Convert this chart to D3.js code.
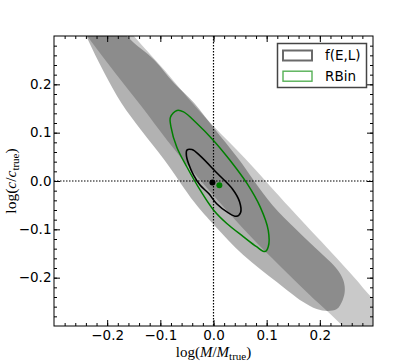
<!DOCTYPE html>
<html>
<head>
<meta charset="utf-8">
<script src="https://cdn.jsdelivr.net/npm/d3@7"></script>
<style>
  html, body { margin: 0; padding: 0; background: #fff; }
  svg { display: block; }
</style>
</head>
<body>
<div id="container"></div>
<script>
// tick labels
const xTicks = [-0.2, -0.1, 0.0, 0.1, 0.2];
const yTicks = [-0.2, -0.1, 0.0, 0.1, 0.2];

// band running to the lower right corner (x, y in log units)
const bandRegion = [
    [-0.207, 0.374], [-0.149, 0.299], [-0.092, 0.229], [-0.049, 0.173], [-0.001, 0.115],
    [0.059, 0.047], [0.144, -0.056], [0.221, -0.147], [0.266, -0.201], [0.299, -0.242],
    [0.369, -0.308], [0.275, -0.339], [0.243, -0.300], [0.181, -0.236], [0.125, -0.176],
    [0.069, -0.114], [0.013, -0.046], [-0.036, 0.016], [-0.087, 0.084], [-0.136, 0.155],
    [-0.186, 0.225], [-0.237, 0.299], [-0.287, 0.374]
];

// curved region ending near (0.24, -0.25)
const bananaRegion = [
    [-0.269, 0.374], [-0.239, 0.299], [-0.205, 0.223], [-0.173, 0.161], [-0.136, 0.105],
    [-0.092, 0.043], [-0.036, -0.044], [0.001, -0.091], [0.056, -0.153], [0.119, -0.209],
    [0.168, -0.250], [0.194, -0.265], [0.215, -0.269], [0.232, -0.265], [0.243, -0.246],
    [0.247, -0.226], [0.244, -0.205], [0.232, -0.182], [0.200, -0.147], [0.111, -0.050],
    [0.046, 0.047], [0.001, 0.109], [-0.036, 0.161], [-0.074, 0.202], [-0.111, 0.250],
    [-0.162, 0.299], [-0.212, 0.374]
];

// f(E,L) contour
const felContour = [
    [-0.050, 0.064], [-0.0405, 0.065], [-0.025, 0.052], [0.006, 0.017], [0.036, -0.017],
    [0.049, -0.043], [0.051, -0.065], [0.043, -0.073], [0.028, -0.066], [0.006, -0.047],
    [-0.009, -0.026], [-0.025, -0.009], [-0.0375, 0.012], [-0.047, 0.036], [-0.051, 0.053]
];

// RBin contour
const rbinContour = [
    [-0.0686, 0.146], [-0.0563, 0.143], [-0.0311, 0.119], [0.000, 0.084], [0.031, 0.043],
    [0.063, -0.005], [0.088, -0.054], [0.103, -0.102], [0.103, -0.136], [0.097, -0.146],
    [0.081, -0.136], [0.056, -0.115], [0.025, -0.088], [0.000, -0.060], [-0.025, -0.019],
    [-0.050, 0.029], [-0.069, 0.070], [-0.080, 0.112], [-0.081, 0.132]
];

// best-fit points
const bestFits = [
    { name: 'f(E,L)', x: -0.002, y: -0.003 },
    { name: 'RBin', x: 0.011, y: -0.009 }
];

const legendNames = ['f(E,L)', 'RBin'];
const colors = { 'f(E,L)': '#000000', 'RBin': '#008000' };
const swatchColors = { 'f(E,L)': '#6a6a6a', 'RBin': '#55b055' };

const W = 415, H = 363;
const margin = { top: 36, right: 42, bottom: 37, left: 54 };
const width = W - margin.left - margin.right;
const height = H - margin.top - margin.bottom;

const svg = d3.select('#container')
    .append('svg')
    .attr('width', W)
    .attr('height', H)
    .append('g')
    .attr('transform', `translate(${margin.left}, ${margin.top})`);

const x = d3.scaleLinear().domain([-0.3, 0.3]).range([0, width]);
const y = d3.scaleLinear().domain([-0.3, 0.3]).range([height, 0]);

svg.append('clipPath').attr('id', 'plotclip')
    .append('rect').attr('width', width).attr('height', height);

const plot = svg.append('g').attr('clip-path', 'url(#plotclip)');

const area = d3.line()
    .x(d => x(d[0]))
    .y(d => y(d[1]))
    .curve(d3.curveCatmullRomClosed.alpha(0.5));

plot.append('path')
    .datum(bandRegion)
    .attr('d', area)
    .attr('fill', '#000')
    .attr('fill-opacity', 0.21)
    .attr('stroke', 'none');

plot.append('path')
    .datum(bananaRegion)
    .attr('d', area)
    .attr('fill', '#000')
    .attr('fill-opacity', 0.30)
    .attr('stroke', 'none');

// dotted zero lines
plot.append('line')
    .attr('x1', x(0)).attr('x2', x(0))
    .attr('y1', 0).attr('y2', height)
    .attr('stroke', '#000').attr('stroke-width', 1.2)
    .attr('stroke-dasharray', '1.5,1.5');
plot.append('line')
    .attr('x1', 0).attr('x2', width)
    .attr('y1', y(0)).attr('y2', y(0))
    .attr('stroke', '#000').attr('stroke-width', 1.2)
    .attr('stroke-dasharray', '1.5,1.5');

plot.append('path')
    .datum(rbinContour)
    .attr('d', area)
    .attr('fill', 'none')
    .attr('stroke', colors['RBin'])
    .attr('stroke-width', 1.5);

plot.append('path')
    .datum(felContour)
    .attr('d', area)
    .attr('fill', 'none')
    .attr('stroke', colors['f(E,L)'])
    .attr('stroke-width', 1.6);

plot.selectAll('circle.fit')
    .data(bestFits).enter()
    .append('circle')
    .attr('class', 'fit')
    .attr('cx', d => x(d.x))
    .attr('cy', d => y(d.y))
    .attr('r', 3)
    .attr('fill', d => colors[d.name]);

// axes: ticks point inward on all four sides
const minor = d3.range(-28, 29, 2).map(v => v / 100);
const fmt = d3.format('.1f');

function styleAxis(g) {
    g.select('.domain').remove();
    g.selectAll('line').attr('stroke', '#000').attr('stroke-width', 1);
    g.selectAll('text').attr('font-family', '"DejaVu Sans", sans-serif')
        .attr('font-size', '13.5px').attr('fill', '#000');
}

svg.append('g').attr('transform', `translate(0, ${height})`)
    .call(d3.axisBottom(x).tickValues(xTicks).tickFormat(fmt).tickSize(-6).tickPadding(4))
    .call(styleAxis);
svg.append('g').attr('transform', `translate(0, ${height})`)
    .call(d3.axisBottom(x).tickValues(minor).tickFormat('').tickSize(-3))
    .call(styleAxis);
svg.append('g')
    .call(d3.axisTop(x).tickValues(xTicks).tickFormat('').tickSize(-6))
    .call(styleAxis);
svg.append('g')
    .call(d3.axisTop(x).tickValues(minor).tickFormat('').tickSize(-3))
    .call(styleAxis);
svg.append('g')
    .call(d3.axisLeft(y).tickValues(yTicks).tickFormat(fmt).tickSize(-6).tickPadding(2.5))
    .call(styleAxis);
svg.append('g')
    .call(d3.axisLeft(y).tickValues(minor).tickFormat('').tickSize(-3))
    .call(styleAxis);
svg.append('g').attr('transform', `translate(${width}, 0)`)
    .call(d3.axisRight(y).tickValues(yTicks).tickFormat('').tickSize(-6))
    .call(styleAxis);
svg.append('g').attr('transform', `translate(${width}, 0)`)
    .call(d3.axisRight(y).tickValues(minor).tickFormat('').tickSize(-3))
    .call(styleAxis);

svg.append('rect')
    .attr('width', width).attr('height', height)
    .attr('fill', 'none').attr('stroke', '#000').attr('stroke-width', 1);

// axis titles
const serif = '"Liberation Serif", "Times New Roman", serif';
const xl = svg.append('text')
    .attr('x', width / 2).attr('y', height + 30.5)
    .attr('text-anchor', 'middle')
    .attr('font-family', serif).attr('font-size', '15px');
xl.append('tspan').text('log(');
xl.append('tspan').attr('font-style', 'italic').text('M');
xl.append('tspan').text('/');
xl.append('tspan').attr('font-style', 'italic').text('M');
xl.append('tspan').attr('font-size', '11px').attr('dy', 3).text('true');
xl.append('tspan').attr('dy', -3).text(')');

const yl = svg.append('text')
    .attr('transform', `translate(${16 - margin.left}, ${height / 2}) rotate(-90)`)
    .attr('text-anchor', 'middle')
    .attr('font-family', serif).attr('font-size', '15.5px');
yl.append('tspan').text('log(');
yl.append('tspan').attr('font-style', 'italic').text('c');
yl.append('tspan').text('/');
yl.append('tspan').attr('font-style', 'italic').text('c');
yl.append('tspan').attr('font-size', '11px').attr('dy', 3).text('true');
yl.append('tspan').attr('dy', -3).text(')');

// legend
const legend = svg.append('g')
    .attr('transform', `translate(${277.5 - margin.left}, ${43.5 - margin.top})`);
legend.append('rect')
    .attr('width', 89).attr('height', 44)
    .attr('fill', '#fff').attr('stroke', '#444').attr('stroke-width', 1.5);
const items = legend.selectAll('g.item')
    .data(legendNames).enter()
    .append('g')
    .attr('transform', (d, i) => `translate(0, ${i * 20.7})`);
items.append('rect')
    .attr('x', 5.5).attr('y', 7).attr('width', 29).attr('height', 10)
    .attr('fill', '#fff')
    .attr('stroke', d => swatchColors[d])
    .attr('stroke-width', (d, i) => i === 0 ? 2 : 1.4);
items.append('text')
    .attr('x', 47.5).attr('y', 16.5)
    .attr('font-family', '"DejaVu Sans", sans-serif')
    .attr('font-size', '13.5px')
    .text(d => d);
</script>
</body>
</html>
